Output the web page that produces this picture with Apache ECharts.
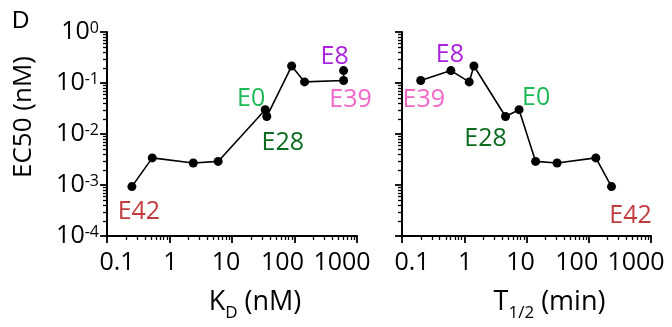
<!DOCTYPE html>
<html>
<head>
<meta charset="utf-8">
<script src="https://cdn.jsdelivr.net/npm/echarts@6/dist/echarts.min.js"></script>
<style>
  html, body { margin: 0; padding: 0; background: #fff; }
  #chart { width: 672px; height: 327px; }
</style>
</head>
<body>
<div id="chart"></div>
<script>
// variants, in order of increasing KD
const names = ['E42', '', '', '', 'E0', 'E28', '', '', 'E39', 'E8'];
const kdValues = [0.25, 0.53, 2.4, 6.0, 34, 36, 90, 145, 610, 610];
const halfLives = [232, 130, 31, 14, 7.6, 4.6, 1.43, 1.2, 0.2, 0.61];
const ec50Values = [0.00093, 0.0034, 0.0027, 0.0029, 0.030, 0.022, 0.215, 0.105, 0.112, 0.175];
const xTickLabels = ['0.1', '1', '10', '100', '1000'];
const xDecades = [0.1, 1, 10, 100];
const yDecades = [0.0001, 0.001, 0.01, 0.1];

const labelColors = { E42: '#c23b3f', E0: '#1db954', E28: '#0b6b1f', E8: '#aa22dd', E39: '#f266c8' };
const kdLabelOffset = { E42: [7, 25], E0: [-14, -11], E28: [16, 26], E8: [-9, -14], E39: [7, 19] };
const tLabelOffset = { E42: [19, 29], E0: [17, -12], E28: [-20, 22], E8: [-1, -16], E39: [3, 19] };
// Prism placed the x tick labels slightly off their ticks
const xLabelShift = [10, 1, -6, -12, -15];

const FONT = 'Open Sans';

function pointData(xs, offsets) {
  return xs.map((x, i) => {
    const n = names[i];
    const item = { value: [x, ec50Values[i]] };
    if (n) {
      item.label = {
        show: true, formatter: n, color: labelColors[n],
        position: 'inside', offset: offsets[n],
        fontFamily: FONT, fontSize: 25
      };
    }
    return item;
  });
}

const kdData = pointData(kdValues, kdLabelOffset);
const tData = pointData(halfLives, tLabelOffset).sort((a, b) => a.value[0] - b.value[0]);

const xRich = {};
xLabelShift.forEach((s, i) => {
  xRich['t' + i] = {
    fontFamily: FONT, fontSize: 25, color: '#000',
    padding: s > 0 ? [0, 0, 0, 2 * s] : [0, -2 * s, 0, 0]
  };
});

function xAxis(gridIndex, nameRich) {
  return {
    type: 'log', gridIndex, min: 0.1, max: 1000,
    name: nameRich, nameLocation: 'middle', nameGap: 50,
    nameTextStyle: {
      padding: [0, 0, 0, 46],
      rich: {
        b: { fontFamily: FONT, fontSize: 27, color: '#000', lineHeight: 30, verticalAlign: 'bottom' },
        sub: { fontFamily: FONT, fontSize: 17, color: '#000', lineHeight: 20, verticalAlign: 'bottom', padding: [0, 0, -6, 0] }
      }
    },
    axisLine: { lineStyle: { color: '#000', width: 2 } },
    axisTick: { show: true, length: 7, lineStyle: { color: '#000', width: 1.8 } },
    splitLine: { show: false },
    axisLabel: {
      margin: 14,
      formatter: v => {
        const i = Math.round(Math.log10(v)) + 1;
        return '{t' + i + '|' + xTickLabels[i] + '}';
      },
      rich: xRich
    }
  };
}

function yAxis(gridIndex, showLabels) {
  return {
    type: 'log', gridIndex, min: 0.0001, max: 1,
    name: showLabels ? 'EC50 (nM)' : '', nameLocation: 'middle', nameGap: 70,
    nameTextStyle: { fontFamily: FONT, fontSize: 26, color: '#000', padding: [0, 0, 0, 34] },
    axisLine: { show: true, lineStyle: { color: '#000', width: 2 } },
    axisTick: { show: true, length: 7, lineStyle: { color: '#000', width: 1.8 } },
    splitLine: { show: false },
    axisLabel: {
      show: showLabels, margin: 8,
      formatter: v => '{b|10}{s|' + Math.round(Math.log10(v)) + '}',
      rich: {
        b: { fontFamily: FONT, fontSize: 25, color: '#000', lineHeight: 24, verticalAlign: 'bottom' },
        s: { fontFamily: FONT, fontSize: 16, color: '#000', lineHeight: 16, verticalAlign: 'top', padding: [0, 0, 10, 0] }
      }
    }
  };
}

function lineSeries(idx, data) {
  return {
    type: 'line', xAxisIndex: idx, yAxisIndex: idx, data,
    symbol: 'circle', symbolSize: 9,
    itemStyle: { color: '#000' },
    lineStyle: { color: '#000', width: 1.6 },
    emphasis: { disabled: true }
  };
}

const chart = echarts.init(document.getElementById('chart'));
chart.setOption({
  animation: false,
  grid: [
    { left: 107, top: 32, width: 250, height: 210 },
    { left: 402, top: 32, width: 249, height: 210 }
  ],
  xAxis: [
    xAxis(0, '{b|K}{sub|D}{b| (nM)}'),
    xAxis(1, '{b|T}{sub|1/2}{b| (min)}')
  ],
  yAxis: [yAxis(0, true), yAxis(1, false)],
  series: [lineSeries(0, kdData), lineSeries(1, tData)]
});

// log-style minor ticks (2..9 in each decade), placed through the axes' own scales
const graphics = [{
  type: 'text', left: 12, top: 9,
  style: { text: 'D', fontSize: 24, fill: '#000' }
}];
const tickStyle = { stroke: '#000', lineWidth: 1.3 };
[0, 1].forEach(g => {
  const [x0, y0] = chart.convertToPixel({ gridIndex: g }, [0.1, 0.0001]);
  xDecades.forEach(d => {
    for (let k = 2; k <= 9; k++) {
      const x = Math.round(chart.convertToPixel({ xAxisIndex: g }, d * k)) + 0.5;
      graphics.push({ type: 'line', shape: { x1: x, y1: y0, x2: x, y2: y0 + 4 }, style: tickStyle, silent: true });
    }
  });
  yDecades.forEach(d => {
    for (let k = 2; k <= 9; k++) {
      const y = Math.round(chart.convertToPixel({ yAxisIndex: g }, d * k)) + 0.5;
      graphics.push({ type: 'line', shape: { x1: x0 - 4, y1: y, x2: x0, y2: y }, style: tickStyle, silent: true });
    }
  });
});
chart.setOption({ graphic: graphics });
</script>
</body>
</html>
